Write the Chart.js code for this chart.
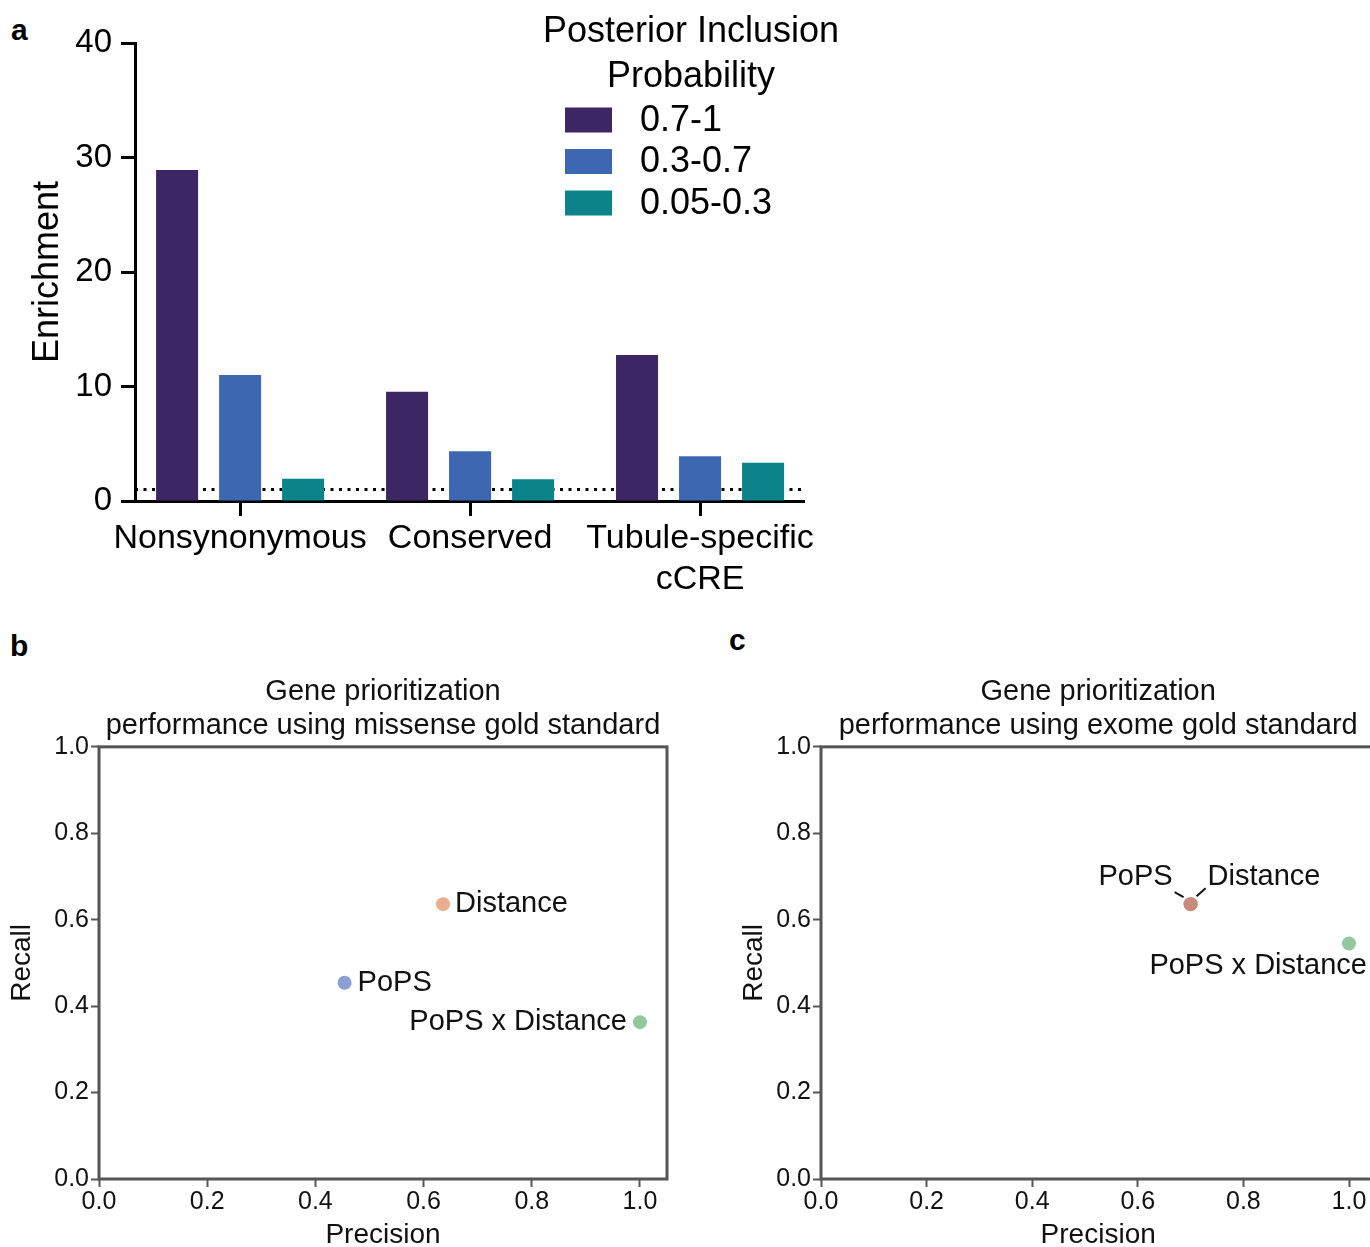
<!DOCTYPE html>
<html>
<head>
<meta charset="utf-8">
<script src="https://cdn.jsdelivr.net/npm/chart.js@4.4.1/dist/chart.umd.min.js"></script>
<style>
  html, body { margin: 0; padding: 0; background: #fff; }
  body { width: 1370px; height: 1247px; position: relative; overflow: hidden;
         font-family: "Liberation Sans", Arial, Helvetica, sans-serif; }
  canvas { position: absolute; }
  .panel { position: absolute; font-weight: bold; font-size: 30px; line-height: 30px; color: #000; }
</style>
</head>
<body>
<div class="panel" style="left:11px;top:15px">a</div>
<div class="panel" style="left:10px;top:631px">b</div>
<div class="panel" style="left:729px;top:625px">c</div>
<canvas id="chartA" width="870" height="610" style="left:0;top:0"></canvas>
<canvas id="chartB" width="700" height="640" style="left:0;top:620px"></canvas>
<canvas id="chartC" width="700" height="640" style="left:720px;top:620px"></canvas>
<script>
// panel a: enrichment by annotation and PIP bin
const categories = [["Nonsynonymous"], ["Conserved"], ["Tubule-specific", "cCRE"]];
const pipBins = ["0.7-1", "0.3-0.7", "0.05-0.3"];
const enrichHigh = [28.9, 9.55, 12.75];
const enrichMid = [11.0, 4.35, 3.9];
const enrichLow = [1.95, 1.9, 3.35];
const enrichTicks = [0, 10, 20, 30, 40];
const nullEnrichment = 1;

// panels b and c: precision / recall per method
const methods = ["PoPS", "Distance", "PoPS x Distance"];
const missensePrecision = [0.454, 0.636, 1.0];
const missenseRecall = [0.454, 0.636, 0.363];
const exomePrecision = [0.70, 0.70, 1.0];
const exomeRecall = [0.636, 0.636, 0.545];
const prTicks = [0, 0.2, 0.4, 0.6, 0.8, 1.0];

const FONT = '"Liberation Sans", Arial, Helvetica, sans-serif';
Chart.defaults.font.family = FONT;
Chart.defaults.color = "#000";

// dotted line at enrichment = 1
const nullLine = {
  id: "nullLine",
  beforeDatasetsDraw(chart) {
    const { ctx, chartArea } = chart;
    const y = chart.scales.y.getPixelForValue(nullEnrichment);
    ctx.save();
    ctx.strokeStyle = "#000";
    ctx.lineWidth = 3;
    ctx.setLineDash([3, 5.5]);
    ctx.beginPath();
    ctx.moveTo(chartArea.left, y);
    ctx.lineTo(chartArea.right, y);
    ctx.stroke();
    ctx.restore();
  }
};

// legend with a two line title, drawn over the plot area
const pipLegend = {
  id: "pipLegend",
  afterDraw(chart, args, opts) {
    const ctx = chart.ctx;
    ctx.save();
    ctx.font = "36px " + FONT;
    ctx.fillStyle = "#000";
    ctx.textAlign = "center";
    ctx.textBaseline = "middle";
    opts.title.forEach((line, i) => ctx.fillText(line, opts.x, opts.y + i * 45));
    ctx.textAlign = "left";
    chart.data.datasets.forEach((ds, i) => {
      const y = opts.itemY + i * opts.itemStep;
      ctx.fillStyle = ds.backgroundColor;
      ctx.fillRect(opts.boxX, y - 12.5, 47, 25);
      ctx.fillStyle = "#000";
      ctx.fillText(ds.label, opts.textX, y + 1);
    });
    ctx.restore();
  }
};

const toXY = (vals) => vals.map((v, i) => ({ x: i, y: v }));

new Chart(document.getElementById("chartA"), {
  type: "bar",
  data: {
    datasets: [
      { label: pipBins[0], data: toXY(enrichHigh), backgroundColor: "#3c2663" },
      { label: pipBins[1], data: toXY(enrichMid), backgroundColor: "#3d68b1" },
      { label: pipBins[2], data: toXY(enrichLow), backgroundColor: "#0b838b" }
    ]
  },
  options: {
    responsive: false,
    animation: false,
    devicePixelRatio: 1,
    layout: { padding: { left: 0, top: 43, right: 66, bottom: 0 } },
    datasets: { bar: { categoryPercentage: 0.822, barPercentage: 0.667, borderWidth: 0 } },
    plugins: {
      legend: { display: false },
      tooltip: { enabled: false },
      pipLegend: {
        title: ["Posterior Inclusion", "Probability"],
        x: 691, y: 32,
        boxX: 565, textX: 640, itemY: 120, itemStep: 41.5
      }
    },
    scales: {
      x: {
        type: "linear",
        offset: false,
        min: -0.457,
        max: 2.452,
        afterBuildTicks: (s) => { s.ticks = categories.map((c, i) => ({ value: i })); },
        afterFit: (s) => { s.height = 109; },
        grid: { offset: false, drawOnChartArea: false, tickLength: 15, tickWidth: 3, tickColor: "#000" },
        border: { display: true, color: "#000", width: 3 },
        ticks: {
          maxRotation: 0, minRotation: 0, autoSkip: false, padding: 2,
          color: "#000", font: { size: 34 },
          callback: (v) => categories[v]
        }
      },
      y: {
        min: 0,
        max: 40,
        afterBuildTicks: (s) => { s.ticks = enrichTicks.map((v) => ({ value: v })); },
        afterFit: (s) => { s.width = 135; },
        grid: { drawOnChartArea: false, tickLength: 14, tickWidth: 3, tickColor: "#000" },
        border: { display: true, color: "#000", width: 3 },
        ticks: { padding: 9, color: "#000", font: { size: 33 } },
        title: {
          display: true, text: "Enrichment", color: "#000",
          font: { size: 36 }, padding: { top: 26, bottom: 0 }
        }
      }
    }
  },
  plugins: [nullLine, pipLegend]
});

// grey frame around scatter plot area
const frame = {
  id: "frame",
  beforeDatasetsDraw(chart) {
    const { ctx, chartArea: a } = chart;
    ctx.save();
    ctx.strokeStyle = "#555";
    ctx.lineWidth = 3;
    ctx.strokeRect(a.left, a.top, a.right - a.left, a.bottom - a.top);
    ctx.restore();
  }
};

// text labels (and optional leader lines) next to each point
const pointLabels = {
  id: "pointLabels",
  afterDatasetsDraw(chart) {
    const ctx = chart.ctx;
    ctx.save();
    ctx.font = "29px " + FONT;
    ctx.fillStyle = "#111";
    ctx.strokeStyle = "#111";
    ctx.lineWidth = 2;
    ctx.textBaseline = "middle";
    chart.data.datasets.forEach((ds, i) => {
      const pt = chart.getDatasetMeta(i).data[0];
      const lp = ds.labelPos;
      ctx.textAlign = lp.align;
      ctx.fillText(ds.label, pt.x + lp.dx, pt.y + lp.dy);
      if (lp.leader) {
        ctx.beginPath();
        ctx.moveTo(pt.x + lp.leader[0], pt.y + lp.leader[1]);
        ctx.lineTo(pt.x + lp.leader[2], pt.y + lp.leader[3]);
        ctx.stroke();
      }
    });
    ctx.restore();
  }
};

function scatterPanel(id, title, precision, recall, colors, labelPos, yWidth, yTitlePad, padRight) {
  new Chart(document.getElementById(id), {
    type: "scatter",
    data: {
      datasets: methods.map((m, i) => ({
        label: m,
        data: [{ x: precision[i], y: recall[i] }],
        backgroundColor: colors[i],
        borderWidth: 0,
        pointRadius: 7,
        pointHoverRadius: 7,
        labelPos: labelPos[i]
      }))
    },
    options: {
      responsive: false,
      animation: false,
      devicePixelRatio: 1,
      layout: { padding: { left: 0, top: 55, right: padRight, bottom: 0 } },
      plugins: {
        legend: { display: false },
        tooltip: { enabled: false },
        title: {
          display: true, fullSize: false, text: title, color: "#111",
          font: { size: 29, weight: "normal", lineHeight: 1.17 }, padding: { top: 0, bottom: 4 }
        }
      },
      scales: {
        x: {
          type: "linear",
          min: 0,
          max: 1.05,
          afterBuildTicks: (s) => { s.ticks = prTicks.map((v) => ({ value: v })); },
          afterFit: (s) => { s.height = 81; },
          grid: { drawOnChartArea: false, tickLength: 8, tickWidth: 2, tickColor: "#555" },
          border: { display: false },
          ticks: { padding: 0, color: "#111", font: { size: 25 }, callback: (v) => v.toFixed(1) },
          title: {
            display: true, text: "Precision", color: "#111",
            font: { size: 28 }, padding: { top: 0, bottom: 8 }
          }
        },
        y: {
          min: 0,
          max: 1,
          afterBuildTicks: (s) => { s.ticks = prTicks.map((v) => ({ value: v })); },
          afterFit: (s) => { s.width = yWidth; },
          grid: { drawOnChartArea: false, tickLength: 8, tickWidth: 2, tickColor: "#555" },
          border: { display: false },
          ticks: { padding: 2, color: "#111", font: { size: 25 }, callback: (v) => v.toFixed(1) },
          title: {
            display: true, text: "Recall", color: "#111",
            font: { size: 28 }, padding: { top: yTitlePad, bottom: 0 }
          }
        }
      }
    },
    plugins: [frame, pointLabels]
  });
}

scatterPanel(
  "chartB",
  ["Gene prioritization", "performance using missense gold standard"],
  missensePrecision, missenseRecall,
  ["#8c9fd5", "#ecae8a", "#93c89d"],
  [
    { align: "left", dx: 13, dy: 0 },
    { align: "left", dx: 12, dy: 0 },
    { align: "right", dx: -13, dy: 0 }
  ],
  99, 5, 33
);

scatterPanel(
  "chartC",
  ["Gene prioritization", "performance using exome gold standard"],
  exomePrecision, exomeRecall,
  ["#c78b7c", "#c78b7c", "#93c89d"],
  [
    { align: "right", dx: -18, dy: -27, leader: [-16, -12, -7, -7] },
    { align: "left", dx: 17, dy: -27, leader: [6, -8, 15, -16] },
    { align: "right", dx: 18, dy: 23 }
  ],
  101, 17, 44.6
);
</script>
</body>
</html>
